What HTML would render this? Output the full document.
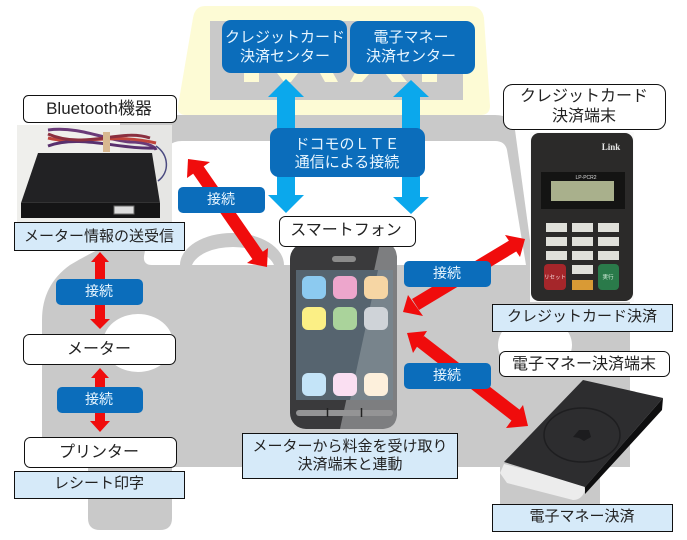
<!DOCTYPE html>
<html lang="ja"><head><meta charset="utf-8">
<style>
html,body{margin:0;padding:0;background:#fff}
svg{display:block}
text{font-family:"Liberation Sans","Noto Sans CJK JP",sans-serif;text-anchor:middle}
.w{fill:#e8f6ff;font-size:15px}
.s{fill:#e8f6ff;font-size:14px}
.k{fill:#222;font-size:15px}
.b{fill:#222;font-size:16px}
.box{fill:#0b6dbb}
.lab{fill:#fff;stroke:#111;stroke-width:1}
.cap{fill:#d6eaf9;stroke:#111;stroke-width:1}
</style></head>
<body>
<svg width="687" height="540" viewBox="0 0 687 540" xmlns="http://www.w3.org/2000/svg">
<rect width="687" height="540" fill="#fff"/>
<!-- car silhouette -->
<g fill="#c9c9c9">
<path d="M120 115H495Q512 115 515 130L530 240L630 240V467H42V320Q42 285 70 265Q95 250 120 240Z"/>
<path d="M88 460H172V518Q172 530 160 530H100Q88 530 88 518Z"/>
<path d="M500 460H600V504H500Z"/>
</g>
<path d="M182 141H495Q505 141 507 150L526 265H152Q143 265 144 256L162 160Q165 141 182 141Z" fill="#fff"/>
<path d="M180 265A52 32 0 0 1 284 265H274A42 23 0 0 0 192 265Z" fill="#c9c9c9"/>
<ellipse cx="138" cy="343" rx="35" ry="29" fill="#fff"/>
<ellipse cx="535" cy="345" rx="37" ry="29" fill="#fff"/>
<!-- taxi sign -->
<path d="M205 6H470Q482 6 484 18L490 106Q490 115 480 115H186Q177 115 178 106L193 18Q195 6 205 6Z" fill="#fdfbd5"/>
<rect x="210" y="21" width="253" height="79" fill="#c9c9c9"/>
<g fill="#fdfbd5"><rect x="244" y="73" width="15" height="9"/><path d="M277 73H298L291 82H284Z"/><path d="M320 73H333L338 82H325Z"/><path d="M355 73H370L362 82H350Z"/><path d="M385 73H400L407 82H392Z"/><rect x="422" y="73" width="15" height="9"/></g>
<!-- blue arrows -->
<g fill="#0ba8ec">
<path d="M286 79L304 97H295V195H304L286 213L268 195H277V97H268Z"/>
<path d="M411 80L429 97H420V197H429L411 214L393 197H402V97H393Z"/>
</g>
<!-- red arrows -->
<g fill="#f00c0c" stroke="none">
<path d="M188 159L210 162L187 178Z"/><path d="M267 267L268 248L247 263Z"/>
<path d="M202 164L263 252L253 260L192 172Z"/>
<path d="M100 252L109 262H105V319H110L100 329L90 319H95V262H91Z"/>
<path d="M100 368L109 378H105V421H110L100 432L90 421H95V378H91Z"/>
<path d="M525 239L505 235L520 257Z"/><path d="M403 312L408 295L423 316Z"/>
<path d="M412 299L510 240L517 251L419 310Z"/>
<path d="M407 333L427 331L413 353Z"/><path d="M528 426L523 405L506 428Z"/>
<path d="M424 336L520 410L512 421L416 346Z"/>
</g>
<!-- top blue boxes -->
<rect class="box" x="222" y="20" width="125" height="53" rx="9"/>
<rect class="box" x="350" y="21" width="125" height="53" rx="9"/>
<rect class="box" x="270" y="128" width="155" height="49" rx="9"/>
<text class="w" x="285" y="42">クレジットカード</text><text class="w" x="285" y="61">決済センター</text>
<text class="w" x="411" y="42">電子マネー</text><text class="w" x="411" y="61">決済センター</text>
<text class="w" x="347" y="149">ドコモのＬＴＥ</text><text class="w" x="347" y="167">通信による接続</text>
<!-- connection labels -->
<rect class="box" x="178" y="187" width="87" height="26" rx="5"/><text class="s" x="221" y="204">接続</text>
<rect class="box" x="56" y="279" width="87" height="26" rx="5"/><text class="s" x="99" y="296">接続</text>
<rect class="box" x="57" y="387" width="86" height="26" rx="5"/><text class="s" x="99" y="404">接続</text>
<rect class="box" x="404" y="261" width="87" height="26" rx="5"/><text class="s" x="447" y="278">接続</text>
<rect class="box" x="404" y="363" width="87" height="26" rx="5"/><text class="s" x="447" y="380">接続</text>
<!-- Bluetooth photo -->
<rect x="17" y="125" width="155" height="97" fill="#efefec"/>
<rect x="120" y="125" width="52" height="97" fill="#e6e6e4"/>
<g fill="none" stroke-width="3"><path d="M48 130C80 126 105 140 130 142C145 142 155 146 156 150" stroke="#6a3a78"/><path d="M48 138C80 146 110 132 156 143" stroke="#c0453c"/><path d="M48 146C80 134 120 150 156 148" stroke="#58306e"/><path d="M48 134C85 150 120 128 150 138" stroke="#8b3040"/></g>
<path d="M156 146C169 155 170 172 158 181" fill="none" stroke="#4a4a80" stroke-width="1.500"/>
<rect x="103" y="132" width="7" height="20" fill="#d8b890"/>
<path d="M38 153H152L160 203V218H21V203Z" fill="#222224"/>
<path d="M21 203H160" stroke="#444"/>
<path d="M21 203H160V218H21Z" fill="#151516"/>
<rect x="114" y="206" width="20" height="8" fill="#ddd" stroke="#666"/>
<!-- phone -->
<rect x="290" y="243" width="107" height="186" rx="16" fill="#3a3a3c"/>
<path d="M382 243Q397 243 397 259V413Q397 429 381 429H340L380 243Z" fill="#7d7e80"/>
<rect x="296" y="270" width="97" height="130" fill="#56646f"/>
<path d="M393 270V400H350L378 270Z" fill="#78848c"/>
<rect x="332" y="256" width="24" height="6" rx="3" fill="#8b8b8b"/>
<g><rect x="302" y="276" width="24" height="23" rx="6" fill="#8ccaf0"/><rect x="333" y="276" width="24" height="23" rx="6" fill="#eda6cc"/><rect x="364" y="276" width="24" height="23" rx="6" fill="#f6d6a4"/>
<rect x="302" y="307" width="24" height="23" rx="6" fill="#fbef85"/><rect x="333" y="307" width="24" height="23" rx="6" fill="#aad39b"/><rect x="364" y="307" width="24" height="23" rx="6" fill="#cfd3d8"/>
<rect x="302" y="373" width="24" height="23" rx="6" fill="#c4e4f8"/><rect x="333" y="373" width="24" height="23" rx="6" fill="#fadff2"/><rect x="364" y="373" width="24" height="23" rx="6" fill="#fdf0dc"/></g>
<rect x="296" y="410" width="97" height="6" rx="3" fill="#949495"/>
<path d="M327.500 408V417M361.500 408V417" stroke="#222" stroke-width="1.500"/>
<!-- credit terminal -->
<rect x="530" y="132" width="104" height="170" fill="#fafafa"/>
<rect x="531" y="133" width="102" height="168" rx="8" fill="#2b2a29"/>
<rect x="541" y="172" width="84" height="37" fill="#141413"/>
<rect x="551" y="181" width="63" height="20" fill="#a9b08c"/>
<text x="586" y="179" fill="#ddd" style="font-size:5px">LP-PCR2</text>
<text x="611" y="150" fill="#e8e8e8" style="font-size:9px;font-family:'Liberation Serif',serif;font-weight:bold">Link</text>
<g fill="#e0e0da"><rect x="546" y="223" width="21" height="9"/><rect x="572" y="223" width="21" height="9"/><rect x="598" y="223" width="21" height="9"/>
<rect x="546" y="237" width="21" height="9"/><rect x="572" y="237" width="21" height="9"/><rect x="598" y="237" width="21" height="9"/>
<rect x="546" y="251" width="21" height="9"/><rect x="572" y="251" width="21" height="9"/><rect x="598" y="251" width="21" height="9"/>
<rect x="572" y="265" width="21" height="9"/></g>
<rect x="544" y="264" width="22" height="26" rx="4" fill="#a5262a"/>
<rect x="598" y="264" width="21" height="26" rx="4" fill="#2a7a4a"/>
<rect x="572" y="280" width="21" height="10" fill="#d99a35"/>
<text x="555" y="279" fill="#f3d8d8" style="font-size:5.500px">リセット</text>
<text x="608" y="279" fill="#d8f0e0" style="font-size:5.500px">実行</text>
<!-- e-money device -->
<path d="M504 464L500 473L507 483L573 500Q582 500 585 490L583 484Z" fill="#ececec"/>
<path d="M504 462L583 380L663 398L585 487Z" fill="#2d2d2f"/>
<path d="M585 487L663 398L662 410L585 494Z" fill="#0e0e0f"/>
<ellipse cx="582" cy="435" rx="38" ry="27" fill="none" stroke="#1e1e20" stroke-width="1.500"/>
<path d="M573 437L579 430H589L591 437L584 441L579 438Z" fill="#1c1c1e"/>
<!-- labels -->
<rect class="lab" x="23.500" y="95.500" width="153" height="27" rx="5"/><text class="b" x="99" y="114" style="font-size:17px">Bluetooth機器</text>
<rect class="cap" x="14.500" y="222.500" width="170" height="28"/><text class="k" x="99" y="241">メーター情報の送受信</text>
<rect class="lab" x="23.500" y="334.500" width="152" height="30" rx="6"/><text class="b" x="99" y="354">メーター</text>
<rect class="lab" x="24.500" y="437.500" width="152" height="30" rx="6"/><text class="b" x="99" y="457">プリンター</text>
<rect class="cap" x="14.500" y="471.500" width="170" height="27"/><text class="k" x="99" y="488">レシート印字</text>
<rect class="lab" x="279.500" y="216.500" width="136" height="30" rx="6"/><text class="b" x="346" y="235">スマートフォン</text>
<rect class="cap" x="242.500" y="433.500" width="215" height="45"/><text class="k" x="350" y="451">メーターから料金を受け取り</text><text class="k" x="350" y="469">決済端末と連動</text>
<rect class="lab" x="503.500" y="84.500" width="162" height="45" rx="9"/><text class="b" x="584" y="101">クレジットカード</text><text class="b" x="584" y="121">決済端末</text>
<rect class="cap" x="492.500" y="304.500" width="180" height="27"/><text class="k" x="582" y="321">クレジットカード決済</text>
<rect class="lab" x="499.500" y="351.500" width="170" height="25" rx="6"/><text class="b" x="584" y="369">電子マネー決済端末</text>
<rect class="cap" x="492.500" y="504.500" width="180" height="27"/><text class="k" x="582" y="521">電子マネー決済</text>
</svg>
</body></html>
